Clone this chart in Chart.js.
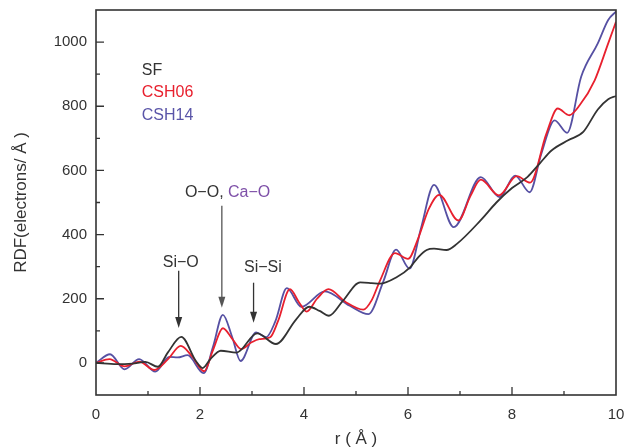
<!DOCTYPE html>
<html>
<head>
<meta charset="utf-8">
<script src="https://cdn.jsdelivr.net/npm/chart.js@4.4.1/dist/chart.umd.min.js"></script>
<style>
  body { margin: 0; background: #fff; }
  #wrap { width: 626px; height: 448px; }
</style>
</head>
<body>
<div id="wrap"><canvas id="myChart" width="626" height="448"></canvas></div>
<script>
// RDF curves (r in Å, value in electrons/Å)
const sfR = [0, 0.4, 0.7, 0.95, 1.19, 1.38, 1.64, 1.92, 2.05, 2.2, 2.4, 2.7, 3.1, 3.46, 3.85, 4.1, 4.3, 4.48, 4.75, 5.08, 5.3, 5.46, 5.78, 6.04, 6.2, 6.36, 6.5, 6.74, 6.94, 7.4, 7.7, 8.0, 8.3, 8.54, 8.76, 9.08, 9.37, 9.65, 9.85, 10];
const sfVal = [0, -4, -2, 3, -12, 32, 81, 6, -16, 12, 38, 32, 92, 59, 136, 175, 162, 147, 194, 251, 249, 247, 267, 298, 330, 352, 356, 352, 371, 445, 500, 545, 580, 623, 662, 694, 720, 790, 822, 832];

const csh06R = [0, 0.26, 0.55, 0.83, 1.12, 1.38, 1.63, 1.85, 2.08, 2.25, 2.44, 2.62, 2.79, 3.0, 3.14, 3.35, 3.5, 3.73, 3.9, 4.05, 4.25, 4.47, 4.8, 5.14, 5.3, 5.46, 5.75, 6.0, 6.2, 6.4, 6.6, 6.97, 7.2, 7.4, 7.75, 8.09, 8.35, 8.66, 8.88, 9.1, 9.3, 9.59, 9.85, 10];
const csh06Val = [0, 12, -11, 4, -22, 11, 53, 20, -26, 40, 108, 75, 43, 65, 74, 80, 130, 230, 190, 160, 200, 230, 190, 166, 195, 256, 342, 324, 390, 480, 524, 444, 520, 571, 522, 582, 562, 714, 793, 772, 803, 881, 996, 1063];

const csh14R = [0, 0.27, 0.55, 0.83, 1.14, 1.41, 1.57, 1.76, 2.07, 2.25, 2.44, 2.62, 2.78, 3.08, 3.27, 3.45, 3.67, 3.95, 4.4, 4.88, 5.24, 5.53, 5.77, 6.03, 6.25, 6.5, 6.88, 7.4, 7.76, 8.06, 8.34, 8.56, 8.82, 9.06, 9.33, 9.65, 9.85, 10];
const csh14Val = [0, 27, -20, 12, -27, 19, 17, 24, -32, 50, 150, 80, 6, 95, 80, 130, 233, 175, 223, 178, 152, 256, 353, 294, 420, 555, 423, 579, 517, 584, 532, 650, 756, 717, 892, 996, 1069, 1095];

const seriesNames = ["SF", "CSH06", "CSH14"];
const seriesColors = ["#333333", "#e8202e", "#5650a3"];

const xMajor = [0, 2, 4, 6, 8, 10];
const yMajor = [0, 200, 400, 600, 800, 1000];

function pts(rs, vs) {
  return rs.map((r, i) => ({ x: r, y: vs[i] }));
}

const FONT = "'Liberation Sans', 'Noto Sans CJK JP', sans-serif";
const TXT = "#333333";

// no extra room for label overhang, the layout padding is enough
function noPad(s) {
  s.paddingTop = 0;
  s.paddingBottom = 0;
  s.paddingLeft = 0;
  s.paddingRight = 0;
}

// frame, inward ticks, legend text and arrows
const decorations = {
  id: "decorations",
  afterDatasetsDraw(chart) {
    const { ctx, chartArea: a, scales: { x, y } } = chart;
    ctx.save();
    ctx.strokeStyle = TXT;
    ctx.lineWidth = 1.6;
    ctx.strokeRect(a.left, a.top, a.right - a.left, a.bottom - a.top);

    ctx.lineWidth = 1.3;
    ctx.beginPath();
    for (let v = 1; v < 10; v++) {
      const px = x.getPixelForValue(v);
      const len = v % 2 === 0 ? 8 : 4;
      ctx.moveTo(px, a.bottom);
      ctx.lineTo(px, a.bottom - len);
    }
    for (let v = 0; v <= 1000; v += 100) {
      const py = y.getPixelForValue(v);
      const len = v % 200 === 0 ? 8 : 4;
      ctx.moveTo(a.left, py);
      ctx.lineTo(a.left + len, py);
    }
    ctx.stroke();

    // legend as coloured text
    ctx.font = "16px " + FONT;
    ctx.textBaseline = "middle";
    ctx.textAlign = "left";
    const legendY = [912, 844, 772];
    seriesNames.forEach((n, i) => {
      ctx.fillStyle = i === 2 ? "#5a55a8" : seriesColors[i];
      ctx.fillText(n, x.getPixelForValue(0.88), y.getPixelForValue(legendY[i]));
    });

    function arrow(r, v0, v1, color) {
      const px = x.getPixelForValue(r);
      const y0 = y.getPixelForValue(v0);
      const y1 = y.getPixelForValue(v1);
      ctx.strokeStyle = color;
      ctx.fillStyle = color;
      ctx.lineWidth = 1.3;
      ctx.beginPath();
      ctx.moveTo(px, y0);
      ctx.lineTo(px, y1 - 8);
      ctx.stroke();
      ctx.beginPath();
      ctx.moveTo(px - 3.5, y1 - 11);
      ctx.lineTo(px + 3.5, y1 - 11);
      ctx.lineTo(px, y1);
      ctx.closePath();
      ctx.fill();
    }

    ctx.font = "16px " + FONT;
    ctx.fillStyle = TXT;
    ctx.textAlign = "center";
    ctx.fillText("Si\u2212O", x.getPixelForValue(1.63), y.getPixelForValue(312));
    arrow(1.59, 287, 109, TXT);

    ctx.fillStyle = TXT;
    ctx.fillText("Si\u2212Si", x.getPixelForValue(3.21), y.getPixelForValue(297));
    arrow(3.03, 250, 125, TXT);

    ctx.textAlign = "left";
    const s1 = "O\u2212O, ";
    const lx = x.getPixelForValue(1.71);
    const ly = y.getPixelForValue(531);
    ctx.fillStyle = TXT;
    ctx.fillText(s1, lx, ly);
    ctx.fillStyle = "#7e50a8";
    ctx.fillText("Ca\u2212O", lx + ctx.measureText(s1).width, ly);
    arrow(2.42, 490, 172, "#555555");

    ctx.restore();
  }
};

new Chart(document.getElementById("myChart"), {
  type: "line",
  data: {
    datasets: [
      { label: seriesNames[0], data: pts(sfR, sfVal), borderColor: seriesColors[0] },
      { label: seriesNames[1], data: pts(csh06R, csh06Val), borderColor: seriesColors[1] },
      { label: seriesNames[2], data: pts(csh14R, csh14Val), borderColor: seriesColors[2] },
    ],
  },
  options: {
    responsive: false,
    animation: false,
    layout: { padding: { left: 0, top: 10, right: 10, bottom: 0 } },
    elements: {
      point: { radius: 0 },
      line: { borderWidth: 1.8, cubicInterpolationMode: "monotone", fill: false },
    },
    plugins: { legend: { display: false }, tooltip: { enabled: false } },
    scales: {
      x: {
        type: "linear",
        min: 0,
        max: 10,
        afterFit(s) { s.height = 53; noPad(s); },
        afterBuildTicks(s) { s.ticks = xMajor.map(v => ({ value: v })); },
        grid: { display: false, drawTicks: false },
        border: { display: false },
        ticks: { color: TXT, font: { family: FONT, size: 15 }, padding: 11, maxRotation: 0 },
        title: {
          display: true,
          text: "r ( \u00c5 )",
          color: TXT,
          font: { family: FONT, size: 17, lineHeight: 1 },
          padding: { top: 0, bottom: 0 },
        },
      },
      y: {
        type: "linear",
        min: -100,
        max: 1100,
        afterFit(s) { s.width = 96; noPad(s); },
        afterBuildTicks(s) { s.ticks = yMajor.map(v => ({ value: v })); },
        grid: { display: false, drawTicks: false },
        border: { display: false },
        ticks: {
          color: TXT,
          font: { family: FONT, size: 15 },
          padding: 9,
          callback: v => String(v),
        },
        title: {
          display: true,
          text: "RDF(electrons/ \u00c5 )",
          color: TXT,
          font: { family: FONT, size: 17, lineHeight: 1 },
          padding: { top: 12.5, bottom: 0 },
        },
      },
    },
  },
  plugins: [decorations],
});
</script>
</body>
</html>
